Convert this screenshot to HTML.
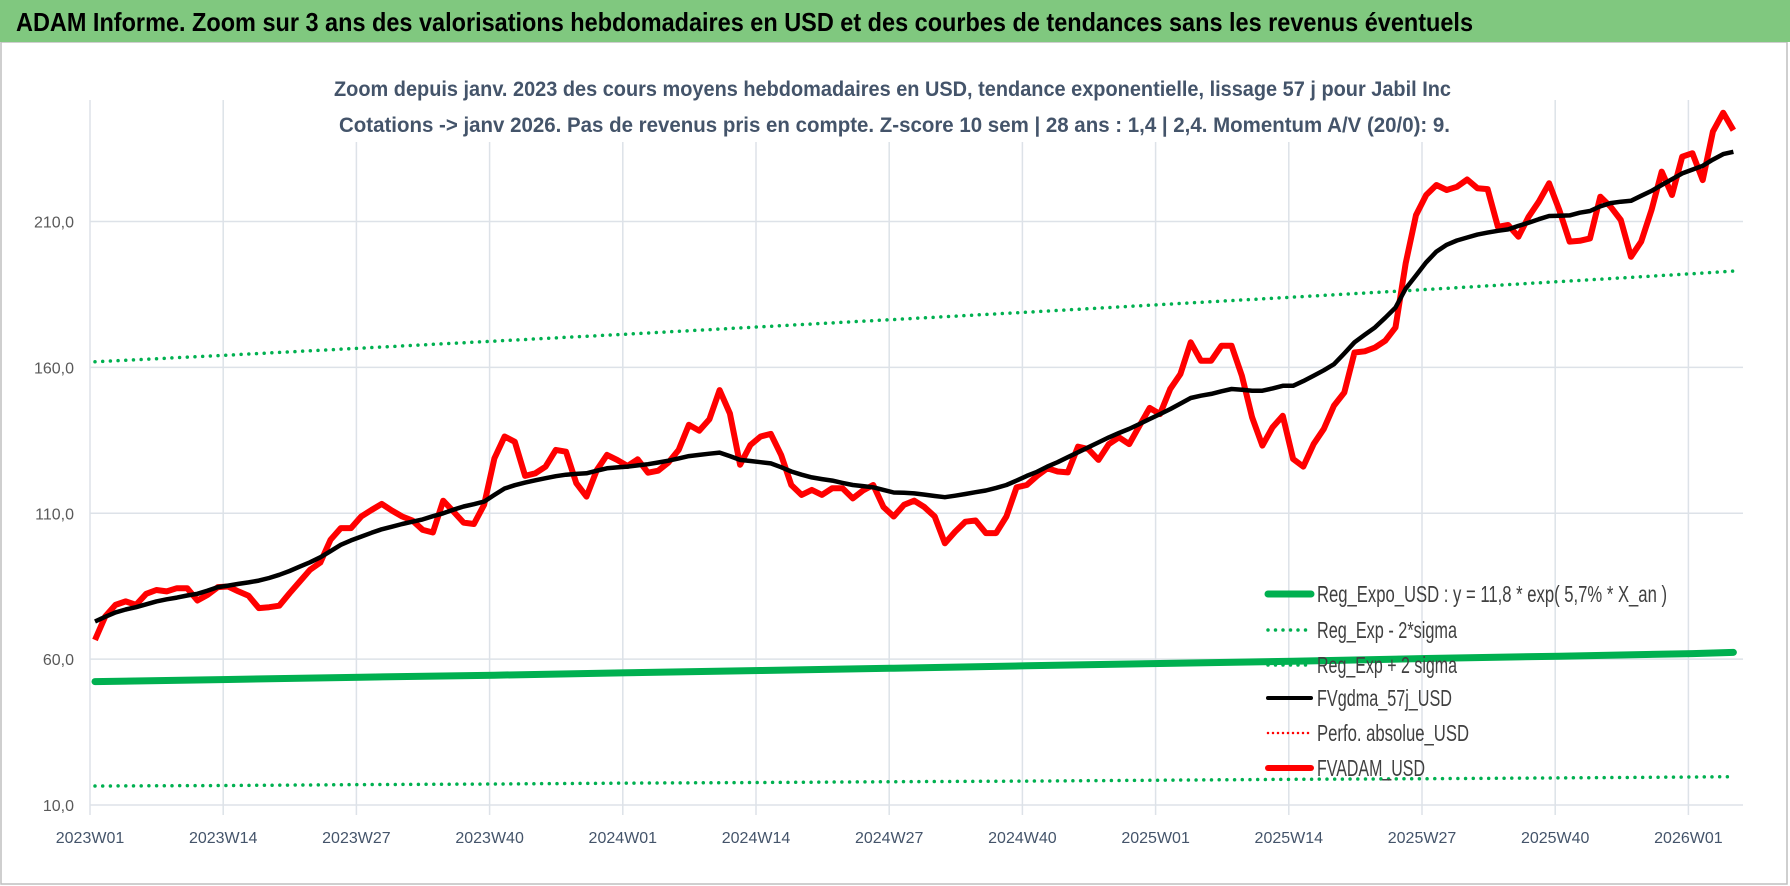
<!DOCTYPE html>
<html><head><meta charset="utf-8"><style>
html,body{margin:0;padding:0;background:#fff;}
svg{display:block;font-family:"Liberation Sans",sans-serif;}
</style></head><body>
<svg id="chart" width="1790" height="886" viewBox="0 0 1790 886" xmlns="http://www.w3.org/2000/svg">
<rect x="1" y="42" width="1786" height="842" fill="#fff" stroke="#bfbfbf" stroke-width="1.5"/>
<rect x="0" y="0" width="1790" height="42" fill="#80c87f"/>
<text x="16" y="31" font-size="26" font-weight="bold" fill="#000" textLength="1457" lengthAdjust="spacingAndGlyphs">ADAM Informe. Zoom sur 3 ans des valorisations hebdomadaires en USD et des courbes de tendances sans les revenus éventuels</text>
<g id="grid"></g>
<rect x="330" y="70" width="1130" height="72" fill="#fff"/>
<text x="334" y="96" font-size="21" font-weight="bold" fill="#44546a" textLength="1117" lengthAdjust="spacingAndGlyphs">Zoom depuis janv. 2023 des cours moyens hebdomadaires en USD, tendance exponentielle, lissage 57 j pour Jabil Inc</text>
<text x="339" y="132" font-size="21" font-weight="bold" fill="#44546a" textLength="1111" lengthAdjust="spacingAndGlyphs">Cotations -&gt; janv 2026. Pas de revenus pris en compte. Z-score 10 sem | 28 ans : 1,4 | 2,4. Momentum A/V (20/0): 9.</text>
<g id="series"></g>
<g id="legend">
  <g>
    <line x1="1268" y1="594" x2="1311" y2="594" stroke="#00b050" stroke-width="7" stroke-linecap="round"/>
    <text x="1317" y="602" font-size="23" fill="#404040" textLength="350" lengthAdjust="spacingAndGlyphs">Reg_Expo_USD : y = 11,8 * exp( 5,7% *  X_an )</text>
  </g>
  <g>
    <line x1="1268" y1="630" x2="1311" y2="630" stroke="#00b050" stroke-width="3.5" stroke-dasharray="0 7.5" stroke-linecap="round"/>
    <text x="1317" y="638" font-size="23" fill="#404040" textLength="140" lengthAdjust="spacingAndGlyphs">Reg_Exp - 2*sigma</text>
  </g>
  <g>
    <line x1="1268" y1="665" x2="1311" y2="665" stroke="#00b050" stroke-width="3.5" stroke-dasharray="0 7.5" stroke-linecap="round"/>
    <text x="1317" y="673" font-size="23" fill="#404040" textLength="140" lengthAdjust="spacingAndGlyphs">Reg_Exp + 2 sigma</text>
  </g>
  <g>
    <line x1="1268" y1="698" x2="1311" y2="698" stroke="#000" stroke-width="4" stroke-linecap="round"/>
    <text x="1317" y="706" font-size="23" fill="#404040" textLength="135" lengthAdjust="spacingAndGlyphs">FVgdma_57j_USD</text>
  </g>
  <g>
    <line x1="1268" y1="733" x2="1311" y2="733" stroke="#ff0000" stroke-width="2.5" stroke-dasharray="0 5" stroke-linecap="round"/>
    <text x="1317" y="741" font-size="23" fill="#404040" textLength="152" lengthAdjust="spacingAndGlyphs">Perfo. absolue_USD</text>
  </g>
  <g>
    <line x1="1268" y1="768" x2="1311" y2="768" stroke="#ff0000" stroke-width="6" stroke-linecap="round"/>
    <text x="1317" y="776" font-size="23" fill="#404040" textLength="108" lengthAdjust="spacingAndGlyphs">FVADAM_USD</text>
  </g>
</g>
</svg>
<script>
const yTicks = [10, 60, 110, 160, 210];
const yTickLabels = ["10,0", "60,0", "110,0", "160,0", "210,0"];
const xTickLabels = ["2023W01","2023W14","2023W27","2023W40","2024W01","2024W14","2024W27","2024W40","2025W01","2025W14","2025W27","2025W40","2026W01"];
const fvadam = [66.6,74.6,78.6,79.8,78.6,82.4,83.7,83.2,84.3,84.3,80.1,82,84.7,84.9,83.2,81.7,77.5,77.8,78.3,82.6,86.6,90.6,93.1,100.9,104.9,104.9,108.9,111.1,113.2,110.9,108.9,107.5,104.3,103.4,114.3,110.6,106.8,106.3,112.9,128.8,136.3,134.5,122.8,123.7,126,131.7,131.1,120.3,
115.7,124.8,130,128.3,126.2,128.5,123.9,124.6,127.4,131.7,140.3,138.3,142.2,152.2,144.2,126.6,133.4,136.3,137.2,130,119.7,116.3,118,116.3,118.6,118.6,115.1,117.8,119.7,112.1,108.9,112.9,114.3,112.1,108.9,99.7,103.7,107.1,107.5,103.2,103.2,108.9,118.9,119.7,122.8,125.4,124.3,
124,132.8,132,128.3,133.7,136,133.7,140,146.1,144,152.6,157.7,168.6,162.3,162.3,167.4,167.4,157.1,142.9,133.2,139.5,143.4,128.6,126,133.7,138.9,146.9,151.4,165.1,165.5,166.8,169.1,173.7,
195.7,212.2,219.1,222.5,220.8,221.9,224.4,221.4,221.1,208.2,208.8,204.8,211.6,216.8,223.1,213.9,203.1,203.4,204.2,218.5,215.1,210.5,197.9,203.1,213.9,227.1,219.1,232.2,233.4,224.2,240.8,247.3,241.3];
const fvgdma = [72.9,74.5,76,77,77.8,78.8,79.8,80.5,81.1,81.8,82.4,83.5,84.7,85.2,85.8,86.3,86.9,87.8,88.9,90.2,91.7,93.2,94.9,97,99.2,100.7,102,103.3,104.5,105.4,106.3,107.1,107.9,109,110,111.2,112.3,113.1,114,116.3,118.5,119.6,120.5,121.3,122,122.7,123.2,123.5,123.7,124.6,125.4,125.7,126,126.4,126.8,127.4,128,128.8,129.6,130,130.4,130.8,129.6,128.3,127.9,127.5,127.1,125.8,124.3,123.2,122.3,121.7,121.2,120.4,119.7,119.3,118.9,118,117.1,117,116.8,116.4,115.9,115.5,116,116.6,117.2,117.8,118.7,119.7,121.2,122.8,124.2,126,127.5,129.2,130.9,132.6,134.3,136,137.5,138.9,140.6,142.3,144,145.7,147.6,149.5,150.3,150.9,151.8,152.6,152.3,152,152,152.8,153.7,153.7,155.3,157.1,159,161.1,164.8,168.6,171.2,173.7,177,180.5,187,191.5,196,199.7,202,203.5,204.5,205.5,206.2,206.8,207.3,208.5,209.6,210.8,211.9,212,212.1,213,213.6,215.2,216.3,216.8,217.1,218.8,220.5,222.5,224.5,226.5,227.8,229.1,231.2,233.1,233.9];
const trendWeeks = [0,13,26,39,52,65,78,91,104,117,130,143,156,160];
const regExpo = [52.3,53.0,53.8,54.5,55.3,56.1,56.9,57.7,58.5,59.3,60.2,61.0,61.9,62.3];
const regPlus2Sigma = [161.9,164.2,166.6,169.0,171.4,173.9,176.4,178.9,181.5,184.1,186.7,189.4,192.1,193.0];
const regMinus2Sigma = [16.5,16.7,17.0,17.2,17.5,17.7,18.0,18.2,18.5,18.8,19.0,19.3,19.6,19.7];

const NS = "http://www.w3.org/2000/svg";
const X0 = 95, XSTEP = 10.24, GX0 = 90, GSTEP = 133.2;
const Y10 = 805, YPX = 2.9175;
const PLOT_L = 90, PLOT_R = 1743;
function xScale(i){ return X0 + XSTEP * i; }
function yScale(v){ return Y10 - (v - 10) * YPX; }
function mk(tag, attrs, parent){
  const e = document.createElementNS(NS, tag);
  for (const k in attrs) e.setAttribute(k, attrs[k]);
  parent.appendChild(e);
  return e;
}
const grid = document.getElementById("grid");
yTicks.forEach((t, k) => {
  const y = yScale(t);
  const l = mk("line", {x1: PLOT_L, x2: PLOT_R, y1: y, y2: y, stroke: "#dde2e8", "stroke-width": 1.5}, grid);
  
  
  const tx = mk("text", {x: 74, y: y + 6, "text-anchor": "end", "font-size": 16, fill: "#595959"}, grid);
  
  
  tx.textContent = yTickLabels[k];
});
xTickLabels.forEach((lab, k) => {
  const x = GX0 + GSTEP * k;
  const l = mk("line", {x1: x, x2: x, y1: 100, y2: 815, stroke: "#dde2e8", "stroke-width": 1.5}, grid);
  
  
  const tx = mk("text", {x: x, y: 843, "text-anchor": "middle", "font-size": 16, fill: "#44546a"}, grid);
  
  
  tx.textContent = lab;
});
const series = document.getElementById("series");
function pathFrom(xs, vals){
  return vals.map((v, i) => (i ? "L" : "M") + xScale(xs[i]).toFixed(1) + " " + yScale(v).toFixed(1)).join(" ");
}
const idx = fvadam.map((_, i) => i);
const pUp = mk("path", {d: pathFrom(trendWeeks, regPlus2Sigma), fill: "none", stroke: "#00b050", "stroke-width": 3.5, "stroke-dasharray": "0 7.7", "stroke-linecap": "round"}, series);


const pLo = mk("path", {d: pathFrom(trendWeeks, regMinus2Sigma), fill: "none", stroke: "#00b050", "stroke-width": 3.5, "stroke-dasharray": "0 7.7", "stroke-linecap": "round"}, series);


const pReg = mk("path", {d: pathFrom(trendWeeks, regExpo), fill: "none", stroke: "#00b050", "stroke-width": 7, "stroke-linecap": "round"}, series);


const pRed = mk("path", {d: pathFrom(idx, fvadam), fill: "none", stroke: "#ff0000", "stroke-width": 6, "stroke-linejoin": "round"}, series);


const pBlack = mk("path", {d: pathFrom(fvgdma.map((_, i) => i), fvgdma), fill: "none", stroke: "#000", "stroke-width": 4.5, "stroke-linejoin": "round"}, series);


</script>
</body></html>
